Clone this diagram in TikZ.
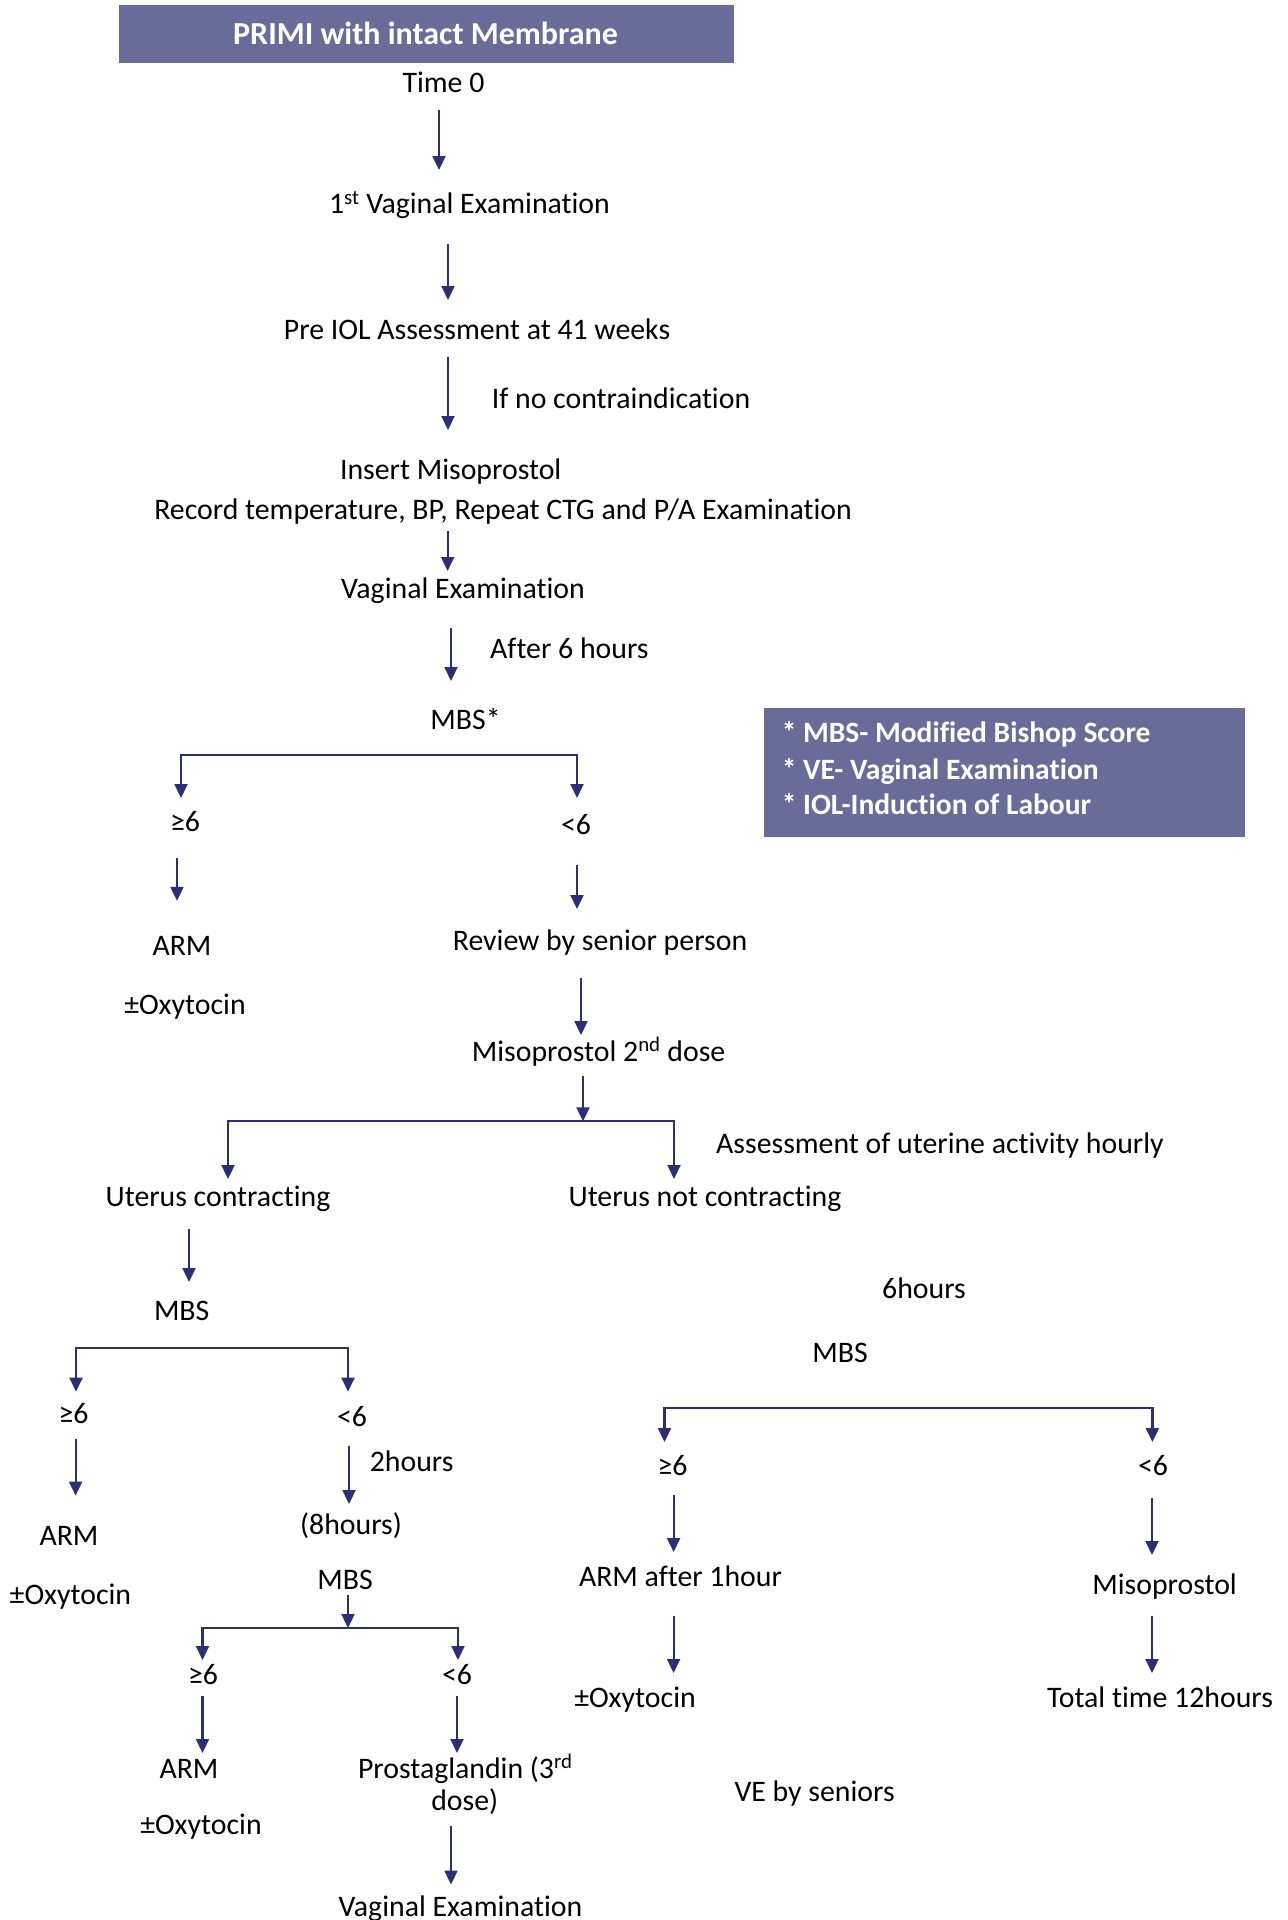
\documentclass[tikz,border=0pt]{standalone}
\usepackage{fontspec}
\setmainfont{Carlito}[Ligatures={NoCommon}]
\usetikzlibrary{arrows.meta}
\definecolor{navy}{RGB}{44,47,118}
\definecolor{boxfill}{RGB}{105,107,152}
\begin{document}
\begin{tikzpicture}[x=1pt,y=-1pt,
  txt/.style={inner sep=0pt,anchor=base,font=\fontsize{29.8}{34}\selectfont},
  txtw/.style={txt,anchor=base west},
  boxtxt/.style={inner sep=0pt,anchor=base west,text=white,font=\fontsize{29.5}{34}\selectfont\bfseries},
  arr/.style={draw=navy,line width=2.2pt,-{Triangle[length=14pt,width=13pt]}}]
\useasboundingbox (0,0) rectangle (1288,1920);

% title bar and legend
\fill[boxfill] (119,5) rectangle (734,63);
\node[inner sep=0pt,anchor=base,text=white,font=\fontsize{32}{36}\selectfont\bfseries] (title) at (425.5,44) {PRIMI with intact Membrane};
\fill[boxfill] (764,708) rectangle (1245,837);
\node[boxtxt] (leg1) at (781.6,742.7) {* MBS- Modified Bishop Score};
\node[boxtxt] (leg2) at (781.6,779.6) {* VE- Vaginal Examination};
\node[boxtxt] (leg3) at (781.6,814.5) {* IOL-Induction of Labour};

% main column
\node[txt] (time0) at (443.5,92) {Time 0};
\node[txt] (ve1) at (469.5,213.6) {1\textsuperscript{st} Vaginal Examination};
\node[txt] (preiol) at (477,339) {Pre IOL Assessment at 41 weeks};
\node[txtw] (noci) at (491.6,408.6) {If no contraindication};
\node[txt] (insert) at (450.7,479.7) {Insert Misoprostol};
\node[txt] (record) at (503,519.5) {Record temperature, BP, Repeat CTG and P/A Examination};
\node[txt] (ve2) at (463,598.8) {Vaginal Examination};
\node[txtw] (after6) at (490,658.5) {After 6 hours};
\node[txt] (mbs1) at (465.6,729.5) {MBS*};
\node[txt] (ge1) at (185,831) {≥6};
\node[txt] (lt1) at (576,834) {<6};
\node[txt] (arm1) at (182,955) {ARM};
\node[txt] (oxy1) at (185,1014.5) {±Oxytocin};
\node[txt] (review) at (600,950) {Review by senior person};
\node[txt] (miso2) at (598.6,1061) {Misoprostol 2\textsuperscript{nd} dose};
\node[txtw] (assess) at (716,1153) {Assessment of uterine activity hourly};
\node[txt] (ucon) at (218,1206.7) {Uterus contracting};
\node[txt] (unot) at (705,1206.7) {Uterus not contracting};

% contracting branch
\node[txt] (mbs2) at (181.7,1320) {MBS};
\node[txt] (ge2) at (73.5,1423) {≥6};
\node[txt] (lt2) at (352,1426.6) {<6};
\node[txtw] (hrs2) at (369.6,1471.8) {2hours};
\node[txt] (hrs8) at (351,1534.6) {(8hours)};
\node[txt] (arm2) at (69,1545) {ARM};
\node[txt] (oxy2) at (70.4,1604) {±Oxytocin};
\node[txt] (mbs3) at (345,1589) {MBS};
\node[txt] (ge3) at (203,1684.5) {≥6};
\node[txt] (lt3) at (457,1684.5) {<6};
\node[txt] (arm3) at (189,1778) {ARM};
\node[txt] (oxy3) at (201,1834.4) {±Oxytocin};
\node[txt] (prost) at (465.3,1778) {Prostaglandin (3\textsuperscript{rd}};
\node[txt] (prostb) at (464.7,1810) {dose)};
\node[txt] (ve3) at (460.5,1916) {Vaginal Examination};

% not contracting branch
\node[txt] (hrs6) at (924,1298.5) {6hours};
\node[txt] (mbs4) at (840,1362) {MBS};
\node[txt] (ge4) at (672.6,1475) {≥6};
\node[txt] (lt4) at (1153,1475) {<6};
\node[txt] (armafter) at (680.5,1586) {ARM after 1hour};
\node[txt] (misor) at (1164.6,1594) {Misoprostol};
\node[txt] (oxy4) at (635,1707) {±Oxytocin};
\node[txt] (total) at (1160,1707) {Total time 12hours};
\node[txt] (veby) at (814.6,1801.6) {VE by seniors};

% connector end points
\coordinate (a1s) at (439,110);   \coordinate (a1e) at (439,170);
\coordinate (a2s) at (448,243.5); \coordinate (a2e) at (448,300);
\coordinate (a3s) at (448,357);   \coordinate (a3e) at (448,430);
\coordinate (a4s) at (447.6,531); \coordinate (a4e) at (447.6,571);
\coordinate (a5s) at (451,628);   \coordinate (a5e) at (451,681);
\coordinate (b1m) at (379,754.6); \coordinate (b1l) at (181,798); \coordinate (b1r) at (577,798);
\coordinate (a6s) at (177,857.7); \coordinate (a6e) at (177,900.8);
\coordinate (a7s) at (577,865);   \coordinate (a7e) at (577,909);
\coordinate (a8s) at (581,977.6); \coordinate (a8e) at (581,1035);
\coordinate (a9s) at (583,1076);  \coordinate (b2m) at (583,1121.3);
\coordinate (b2l) at (228,1179);  \coordinate (b2r) at (674,1179);
\coordinate (a10s) at (189,1229); \coordinate (a10e) at (189,1282);
\coordinate (b3m) at (212,1347.8); \coordinate (b3l) at (76,1391.7); \coordinate (b3r) at (348,1391.7);
\coordinate (a11s) at (75.6,1439); \coordinate (a11e) at (75.6,1495.6);
\coordinate (a12s) at (349,1446);  \coordinate (a12e) at (349,1504);
\coordinate (a13s) at (348,1595);  \coordinate (b4m) at (348,1628);
\coordinate (b4l) at (202.5,1660); \coordinate (b4r) at (458,1660);
\coordinate (a14s) at (202.5,1695.6); \coordinate (a14e) at (202.5,1753);
\coordinate (a15s) at (457,1695.6);   \coordinate (a15e) at (457,1753);
\coordinate (a16s) at (451,1826);     \coordinate (a16e) at (451,1884.5);
\coordinate (b5m) at (908,1407.7); \coordinate (b5l) at (664.5,1442); \coordinate (b5r) at (1152.4,1442);
\coordinate (a17s) at (673.6,1494.8); \coordinate (a17e) at (673.6,1552);
\coordinate (a18s) at (1152,1497.7);  \coordinate (a18e) at (1152,1555);
\coordinate (a19s) at (673.6,1615.5); \coordinate (a19e) at (673.6,1673);
\coordinate (a20s) at (1152,1615.5);  \coordinate (a20e) at (1152,1673);

% connectors
\draw[arr] (a1s) -- (a1e);
\draw[arr] (a2s) -- (a2e);
\draw[arr] (a3s) -- (a3e);
\draw[arr] (a4s) -- (a4e);
\draw[arr] (a5s) -- (a5e);
\draw[arr] (b1m) -| (b1l);
\draw[arr] (b1m) -| (b1r);
\draw[arr] (a6s) -- (a6e);
\draw[arr] (a7s) -- (a7e);
\draw[arr] (a8s) -- (a8e);
\draw[arr] (a9s) -- (b2m);
\draw[arr] (b2m) -| (b2l);
\draw[arr] (b2m) -| (b2r);
\draw[arr] (a10s) -- (a10e);
\draw[arr] (b3m) -| (b3l);
\draw[arr] (b3m) -| (b3r);
\draw[arr] (a11s) -- (a11e);
\draw[arr] (a12s) -- (a12e);
\draw[arr] (a13s) -- (b4m);
\draw[arr] (b4m) -| (b4l);
\draw[arr] (b4m) -| (b4r);
\draw[arr] (a14s) -- (a14e);
\draw[arr] (a15s) -- (a15e);
\draw[arr] (a16s) -- (a16e);
\draw[arr] (b5m) -| (b5l);
\draw[arr] (b5m) -| (b5r);
\draw[arr] (a17s) -- (a17e);
\draw[arr] (a18s) -- (a18e);
\draw[arr] (a19s) -- (a19e);
\draw[arr] (a20s) -- (a20e);
\end{tikzpicture}
\end{document}
